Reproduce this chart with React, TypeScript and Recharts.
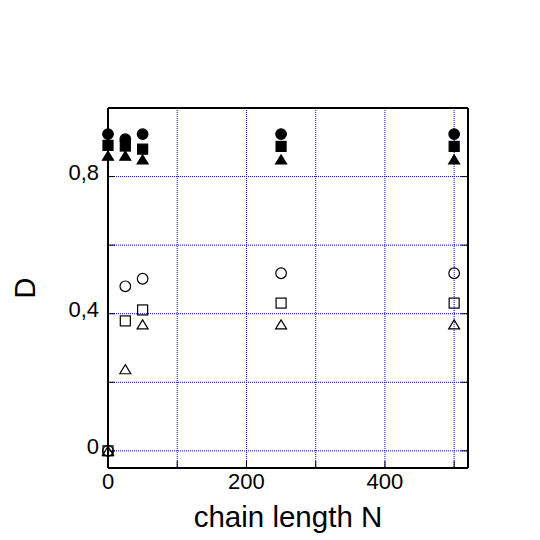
import { ScatterChart, Scatter, XAxis, YAxis, CartesianGrid, Label } from "recharts";

const FONT = '"Liberation Sans", Arial, Helvetica, sans-serif';

// chain length N
const chainLengths = [0, 25, 50, 250, 500];

// filled markers
const filledCircle = [0.924, 0.909, 0.924, 0.924, 0.924];
const filledSquare = [0.891, 0.889, 0.88, 0.888, 0.888];
const filledTriangle = [0.861, 0.861, 0.85, 0.85, 0.85];

// open markers
const openCircle = [0, 0.48, 0.502, 0.518, 0.518];
const openSquare = [0, 0.379, 0.411, 0.431, 0.431];
const openTriangle = [0, 0.238, 0.369, 0.369, 0.369];

const xTicks = [0, 100, 200, 300, 400, 500];
const xTickLabels = ["0", "", "200", "", "400", ""];
const yTicks = [0, 0.2, 0.4, 0.6, 0.8];
const yTickLabels = ["0", "", "0,4", "", "0,8"];

const toPoints = (vals: number[]) => chainLengths.map((n, i) => ({ n, d: vals[i] }));

const TICK = 7;

const circle = (fill: string) => (p: any) => (
  <circle cx={p.cx} cy={p.cy} r={5.3} fill={fill} stroke="#000" strokeWidth={1.2} />
);
const square = (fill: string) => (p: any) => (
  <rect x={p.cx - 5} y={p.cy - 5} width={10} height={10} fill={fill} stroke="#000" strokeWidth={1.2} />
);
const triangle = (fill: string) => (p: any) => (
  <polygon
    points={`${p.cx},${p.cy - 4.5} ${p.cx - 5.5},${p.cy + 4.5} ${p.cx + 5.5},${p.cy + 4.5}`}
    fill={fill}
    stroke="#000"
    strokeWidth={1.2}
    strokeLinejoin="miter"
  />
);

function BottomTick(p: any) {
  const label = xTickLabels[p.index];
  return (
    <g>
      <line x1={p.x} x2={p.x} y1={p.y} y2={p.y - TICK} stroke="#000" strokeWidth={1} />
      {label && (
        <text x={p.x} y={p.y + 21} textAnchor="middle" fontSize={22} fontFamily={FONT} fill="#000">
          {label}
        </text>
      )}
    </g>
  );
}

function TopTick(p: any) {
  return <line x1={p.x} x2={p.x} y1={p.y} y2={p.y + TICK} stroke="#000" strokeWidth={1} />;
}

function LeftTick(p: any) {
  const label = yTickLabels[p.index];
  return (
    <g>
      <line x1={p.x} x2={p.x + TICK} y1={p.y} y2={p.y} stroke="#000" strokeWidth={1} />
      {label && (
        <text x={p.x - 9} y={p.y + 3} textAnchor="end" fontSize={22} fontFamily={FONT} fill="#000">
          {label}
        </text>
      )}
    </g>
  );
}

function RightTick(p: any) {
  return <line x1={p.x} x2={p.x - TICK} y1={p.y} y2={p.y} stroke="#000" strokeWidth={1} />;
}

export default function App() {
  return (
    <div style={{ position: "absolute", left: 0, top: 0, background: "#fff" }}>
      <ScatterChart width={540} height={540} margin={{ top: 0, right: 0, bottom: 0, left: 0 }}>
        <CartesianGrid stroke="#0000ff" strokeDasharray="1 1" strokeWidth={1} />
        <XAxis
          dataKey="n"
          type="number"
          domain={[0, 520]}
          ticks={xTicks}
          interval={0}
          height={72}
          tickSize={0}
          tickMargin={0}
          tickLine={false}
          tick={BottomTick}
          axisLine={{ stroke: "#000", strokeWidth: 2 }}
        >
          <Label
            content={(lp: any) => (
              <text
                x={lp.viewBox.x + lp.viewBox.width / 2}
                y={lp.viewBox.y + 59}
                textAnchor="middle"
                fontSize={29.5}
                fontFamily={FONT}
                fill="#000"
              >
                chain length N
              </text>
            )}
          />
        </XAxis>
        <XAxis
          xAxisId="top"
          orientation="top"
          type="number"
          domain={[0, 520]}
          ticks={xTicks}
          interval={0}
          allowDataOverflow
          height={108}
          tickSize={0}
          tickMargin={0}
          tickLine={false}
          tick={TopTick}
          axisLine={{ stroke: "#000", strokeWidth: 2 }}
        />
        <YAxis
          dataKey="d"
          type="number"
          domain={[-0.05, 1]}
          ticks={yTicks}
          interval={0}
          width={108}
          tickSize={0}
          tickMargin={0}
          tickLine={false}
          tick={LeftTick}
          axisLine={{ stroke: "#000", strokeWidth: 2 }}
        >
          <Label
            content={() => (
              <text
                x={35}
                y={288}
                transform="rotate(-90 35 288)"
                textAnchor="middle"
                fontSize={29}
                fontFamily={FONT}
                fill="#000"
              >
                D
              </text>
            )}
          />
        </YAxis>
        <YAxis
          yAxisId="right"
          orientation="right"
          type="number"
          domain={[-0.05, 1]}
          ticks={yTicks}
          interval={0}
          allowDataOverflow
          width={72}
          tickSize={0}
          tickMargin={0}
          tickLine={false}
          tick={RightTick}
          axisLine={{ stroke: "#000", strokeWidth: 2 }}
        />
        <Scatter data={toPoints(openCircle)} shape={circle("none")} isAnimationActive={false} />
        <Scatter data={toPoints(openSquare)} shape={square("none")} isAnimationActive={false} />
        <Scatter data={toPoints(openTriangle)} shape={triangle("none")} isAnimationActive={false} />
        <Scatter data={toPoints(filledTriangle)} shape={triangle("#000")} isAnimationActive={false} />
        <Scatter data={toPoints(filledSquare)} shape={square("#000")} isAnimationActive={false} />
        <Scatter data={toPoints(filledCircle)} shape={circle("#000")} isAnimationActive={false} />
      </ScatterChart>
    </div>
  );
}
